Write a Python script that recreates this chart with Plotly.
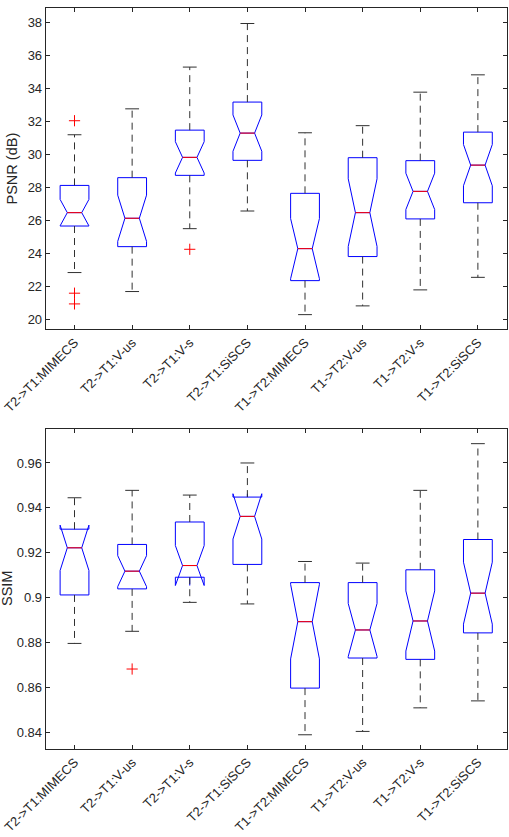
import plotly.graph_objects as go

categories = ["T2->T1:MIMECS", "T2->T1:V-us", "T2->T1:V-s", "T2->T1:SiSCS",
              "T1->T2:MIMECS", "T1->T2:V-us", "T1->T2:V-s", "T1->T2:SiSCS"]
positions = [1, 2, 3, 4, 5, 6, 7, 8]

psnr_lower = [22.87, 21.72, 25.53, 26.6, 20.32, 20.85, 21.82, 22.58]
psnr_q1 = [25.69, 24.44, 28.76, 29.67, 22.38, 23.84, 26.12, 27.1]
psnr_med = [26.5, 26.16, 29.85, 31.32, 24.32, 26.5, 27.79, 29.38]
psnr_q3 = [28.15, 28.62, 31.5, 33.2, 27.67, 29.83, 29.65, 31.38]
psnr_upper = [31.22, 32.79, 35.32, 37.96, 31.34, 31.77, 33.8, 34.85]
psnr_notch = [0.8, 1.4, 0.95, 1.1, 1.82, 2.05, 1.1, 1.25]
psnr_out_x = [1, 1, 1, 3]
psnr_out_y = [32.07, 21.62, 20.97, 24.28]

ssim_lower = [0.8796, 0.885, 0.8979, 0.8972, 0.8389, 0.8404, 0.8509, 0.854]
ssim_q1 = [0.9012, 0.9039, 0.9091, 0.9148, 0.8597, 0.8731, 0.8725, 0.8843]
ssim_med = [0.9222, 0.9118, 0.9143, 0.9362, 0.8893, 0.8856, 0.8896, 0.902]
ssim_q3 = [0.9305, 0.9237, 0.9337, 0.9448, 0.9067, 0.9067, 0.9124, 0.9259]
ssim_upper = [0.9445, 0.9478, 0.9457, 0.96, 0.9161, 0.9154, 0.9478, 0.9686]
ssim_notch = [0.0101, 0.0069, 0.0089, 0.0101, 0.0166, 0.0118, 0.0134, 0.0138]
ssim_out_x = [2]
ssim_out_y = [0.8682]

psnr_ticks = [20, 22, 24, 26, 28, 30, 32, 34, 36, 38]
ssim_ticks = [0.84, 0.86, 0.88, 0.9, 0.92, 0.94, 0.96]
ssim_ticktext = ["0.84", "0.86", "0.88", "0.9", "0.92", "0.94", "0.96"]

BOX_W = 0.5
CAP_HALF = 0.12
MED_HALF = BOX_W * 0.5 / 2
AX_COLOR = "#262626"
FONT = "Liberation Sans, Arial, sans-serif"

fig = go.Figure()


def add_panel(xa, ya, lower, q1, med, q3, upper, notch, ox, oy):
    fig.add_trace(go.Box(
        x=positions, q1=q1, median=med, q3=q3,
        lowerfence=q1, upperfence=q3, notchspan=notch,
        notched=True, notchwidth=0.25, width=BOX_W, whiskerwidth=0,
        line=dict(color="blue", width=1), fillcolor="rgba(0,0,0,0)",
        boxpoints=False, xaxis=xa, yaxis=ya, showlegend=False, hoverinfo="skip"))
    wx, wy, cx, cy, mx, my = [], [], [], [], [], []
    for p, lo, a, m, b, hi in zip(positions, lower, q1, med, q3, upper):
        wx += [p, p, None, p, p, None]
        wy += [b, hi, None, a, lo, None]
        cx += [p - CAP_HALF, p + CAP_HALF, None, p - CAP_HALF, p + CAP_HALF, None]
        cy += [hi, hi, None, lo, lo, None]
        mx += [p - MED_HALF, p + MED_HALF, None]
        my += [m, m, None]
    fig.add_trace(go.Scatter(x=wx, y=wy, mode="lines", xaxis=xa, yaxis=ya,
                             line=dict(color="#303030", width=1, dash="7px,5px"),
                             showlegend=False, hoverinfo="skip"))
    fig.add_trace(go.Scatter(x=cx, y=cy, mode="lines", xaxis=xa, yaxis=ya,
                             line=dict(color="#303030", width=1),
                             showlegend=False, hoverinfo="skip"))
    fig.add_trace(go.Scatter(x=mx, y=my, mode="lines", xaxis=xa, yaxis=ya,
                             line=dict(color="red", width=1),
                             showlegend=False, hoverinfo="skip"))
    fig.add_trace(go.Scatter(x=ox, y=oy, mode="markers", xaxis=xa, yaxis=ya,
                             marker=dict(symbol="cross-thin", size=8,
                                         line=dict(color="red", width=1)),
                             showlegend=False, hoverinfo="skip"))


add_panel("x", "y", psnr_lower, psnr_q1, psnr_med, psnr_q3, psnr_upper, psnr_notch,
          psnr_out_x, psnr_out_y)
add_panel("x2", "y2", ssim_lower, ssim_q1, ssim_med, ssim_q3, ssim_upper, ssim_notch,
          ssim_out_x, ssim_out_y)

W, H = 509, 837
xdom = [45.7 / W, 506.7 / W]
top_dom = [1 - 329 / H, 1 - 8 / H]
bot_dom = [1 - 748.7 / H, 1 - 429.3 / H]

axis_common = dict(showline=True, linecolor=AX_COLOR, linewidth=1, mirror="ticks",
                   ticks="inside", ticklen=4, tickcolor=AX_COLOR, showgrid=False,
                   zeroline=False, automargin=False,
                   tickfont=dict(family=FONT, size=13, color=AX_COLOR))

fig.update_layout(
    template="none",
    width=W, height=H, margin=dict(l=0, r=0, t=0, b=0, pad=0, autoexpand=False),
    paper_bgcolor="white", plot_bgcolor="white", boxmode="overlay",
    xaxis=dict(domain=xdom, anchor="y", range=[0.5, 8.5], tickvals=positions,
               ticktext=categories, tickangle=-45, **axis_common),
    yaxis=dict(domain=top_dom, anchor="x", range=[19.45, 38.9], tickvals=psnr_ticks,
               **axis_common),
    xaxis2=dict(domain=xdom, anchor="y2", range=[0.5, 8.5], tickvals=positions,
                ticktext=categories, tickangle=-45, **axis_common),
    yaxis2=dict(domain=bot_dom, anchor="x2", range=[0.8327, 0.975], tickvals=ssim_ticks,
                ticktext=ssim_ticktext, **axis_common),
    annotations=[
        dict(text="PSNR (dB)", x=11 / W, y=(top_dom[0] + top_dom[1]) / 2, xref="paper",
             yref="paper", textangle=-90, showarrow=False, xanchor="center",
             yanchor="middle", font=dict(family=FONT, size=14.5, color=AX_COLOR)),
        dict(text="SSIM", x=7 / W, y=(bot_dom[0] + bot_dom[1]) / 2, xref="paper",
             yref="paper", textangle=-90, showarrow=False, xanchor="center",
             yanchor="middle", font=dict(family=FONT, size=14.5, color=AX_COLOR)),
    ],
)

fig.write_html("out.html")
